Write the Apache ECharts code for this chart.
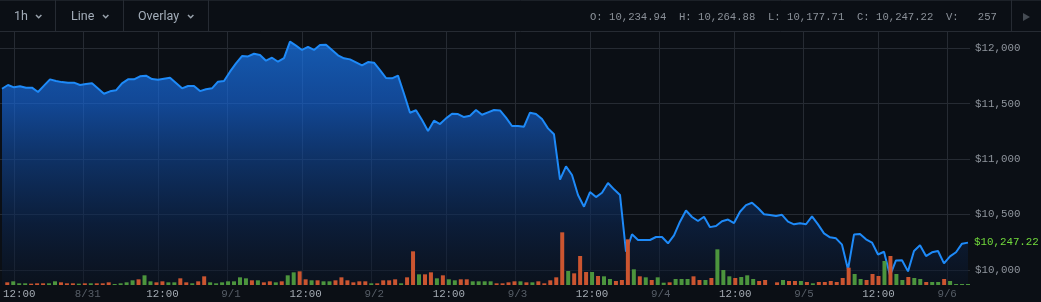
<!DOCTYPE html>
<html><head><meta charset="utf-8">
<style>html,body{margin:0;padding:0;background:#0b0f15;}#c{width:1041px;height:302px;}</style>
<script src="https://cdn.jsdelivr.net/npm/echarts@6/dist/echarts.min.js"></script>
</head><body><div id="c"></div>
<script>
// hourly close prices (index = hour)
const prices = [
11635,11669,11648,11657,11645,11645,11606,11663,11720,11705,
11695,11690,11690,11669,11677,11684,11637,11590,11612,11621,
11684,11720,11720,11747,11753,11723,11717,11726,11735,11687,
11639,11660,11660,11614,11630,11639,11699,11705,11789,11864,
11930,11927,11951,11940,11888,11915,11879,11912,12060,12024,
11985,12012,11985,12030,12033,11985,11937,11910,11900,11873,
11846,11876,11870,11804,11732,11729,11753,11590,11419,11441,
11353,11254,11347,11317,11368,11410,11407,11380,11392,11443,
11401,11422,11443,11440,11374,11299,11299,11293,11419,11407,
11362,11278,11224,10815,10935,10857,10677,10571,10703,10658,
10697,10785,10728,10677,10165,10322,10271,10271,10271,10298,
10298,10241,10312,10436,10537,10478,10442,10481,10387,10397,
10440,10455,10424,10526,10586,10607,10560,10503,10496,10487,
10498,10436,10412,10422,10413,10484,10412,10331,10295,10286,
10229,10005,10320,10325,10277,10248,10140,10165,9952,10087,
10088,9988,10172,10224,10126,10160,10172,10060,10123,10160,
10238,10247.22
];
// hourly volume
const volumes = [
670,920,420,420,330,420,420,420,920,670,
420,420,330,420,420,420,420,670,250,420,
670,1170,1420,2420,920,670,920,670,670,1670,
670,420,920,2170,670,420,670,920,920,1920,
1670,1170,1170,670,920,670,920,2420,3170,3420,
1420,1170,1170,920,920,1170,1920,1170,670,920,
920,420,420,1170,1170,1420,420,1920,8420,2670,
2670,3170,1670,2420,1420,1170,1420,1420,920,920,
920,920,420,420,670,920,920,670,670,920,
420,1170,1920,13170,3500,2920,7250,3250,3250,2250,
2170,1500,1000,1250,11420,3920,2170,1920,1250,1920,
580,670,1500,1500,1500,2170,1250,1250,1750,8920,
3750,2170,1750,2000,2420,1500,1000,1250,0,670,
1250,1000,1000,1000,750,420,750,750,1000,750,
1750,4330,2750,1500,1250,2750,2250,6000,7250,2750,
1250,2000,1750,1500,750,750,750,1500,1000,250,
250,257
];
// candle direction per hour: u = up (green), d = down (red)
const volumeDir = [
'd','u','u','u','d','d','d','u','u','d',
'd','d','u','d','u','d','d','d','u','u',
'u','u','d','u','u','d','d','u','u','d',
'd','u','d','d','u','u','u','u','u','u',
'u','d','u','d','d','u','d','u','u','d',
'd','u','d','u','u','d','d','d','d','d',
'd','u','d','d','d','d','u','d','d','u',
'd','d','u','d','u','u','d','d','u','u',
'u','u','d','d','d','d','u','d','u','d',
'd','d','d','d','u','d','d','d','u','d',
'u','u','d','d','d','u','d','u','d','u',
'u','d','u','u','u','d','d','u','d','u',
'u','u','d','u','u','u','d','d','d','d',
'u','d','d','u','d','u','d','d','d','d',
'd','d','u','u','d','d','d','u','d','u',
'u','d','u','u','d','u','u','d','u','u',
'u','u'
];
const tickPositions = [2, 13.5, 26, 37.5, 50, 61.5, 74, 85.5, 98, 109.5, 122, 133.5, 146, 157.5];
const tickLabels = ['12:00','8/31','12:00','9/1','12:00','9/2','12:00','9/3','12:00','9/4','12:00','9/5','12:00','9/6'];
const priceTicks = [10000, 10500, 11000, 11500, 12000];
const ohlcText = 'O: 10,234.94  H: 10,264.88  L: 10,177.71  C: 10,247.22  V:   257';
const menuItems = ['1h', 'Line', 'Overlay'];

const MONO = "'Liberation Mono','DejaVu Sans Mono',monospace";
const GRIDC = '#262b33';
const RED = '#cb5530', GREEN = '#4c953d';

function tickIndex(v){ for (let i=0;i<tickPositions.length;i++){ if (Math.abs(tickPositions[i]-v)<0.01) return i; } return -1; }

const chart = echarts.init(document.getElementById('c'), null, {renderer:'canvas'});
const last = prices[prices.length-1];
const xMin = -1/3, xMax = prices.length - 1 + 1/3;

const graphics = [
  {type:'line', shape:{x1:0,y1:0.5,x2:1041,y2:0.5}, style:{stroke:'#1c2128',lineWidth:1}, silent:true},
  {type:'line', shape:{x1:0,y1:31.5,x2:1041,y2:31.5}, style:{stroke:GRIDC,lineWidth:1}, silent:true},
  {type:'line', shape:{x1:55.5,y1:0,x2:55.5,y2:31}, style:{stroke:GRIDC,lineWidth:1}},
  {type:'line', shape:{x1:123.5,y1:0,x2:123.5,y2:31}, style:{stroke:GRIDC,lineWidth:1}},
  {type:'line', shape:{x1:208.5,y1:0,x2:208.5,y2:31}, style:{stroke:GRIDC,lineWidth:1}},
  {type:'line', shape:{x1:1011.5,y1:0,x2:1011.5,y2:31}, style:{stroke:GRIDC,lineWidth:1}},
  {type:'text', x:14, y:17, style:{text:menuItems[0], fill:'#a3adb9', font:"12.5px Roboto", verticalAlign:'middle'}},
  {type:'text', x:71, y:17, style:{text:menuItems[1], fill:'#a3adb9', font:"12.5px Roboto", verticalAlign:'middle'}},
  {type:'text', x:138, y:17, style:{text:menuItems[2], fill:'#a3adb9', font:"12.5px Roboto", verticalAlign:'middle'}},
  {type:'polyline', shape:{points:[[36,15],[38.7,17.7],[41.4,15]]}, style:{stroke:'#9aa3ad',lineWidth:1.5,fill:null}},
  {type:'polyline', shape:{points:[[103,15],[105.7,17.7],[108.4,15]]}, style:{stroke:'#9aa3ad',lineWidth:1.5,fill:null}},
  {type:'polyline', shape:{points:[[188,15],[190.7,17.7],[193.4,15]]}, style:{stroke:'#9aa3ad',lineWidth:1.5,fill:null}},
  {type:'text', x:590, y:17, style:{text:ohlcText, fill:'#8b9199', font:"10.6px 'Liberation Mono'", verticalAlign:'middle'}},
  {type:'polygon', shape:{points:[[1023,13],[1023,21],[1030,17]]}, style:{fill:'#454b53'}}
];

chart.setOption({
  backgroundColor:'#0b0f15',
  animation:false,
  grid:[
    {left:0, right:71, top:31, bottom:17},
    {left:0, right:71, top:225, bottom:17}
  ],
  xAxis:[
    {type:'value', gridIndex:0, min:xMin, max:xMax,
     axisLine:{show:false}, axisTick:{show:false, customValues:tickPositions},
     axisLabel:{show:false, customValues:tickPositions},
     splitLine:{show:true, lineStyle:{color:GRIDC, width:1}}},
    {type:'value', gridIndex:1, min:xMin, max:xMax,
     axisLine:{show:false}, axisTick:{show:false, customValues:tickPositions},
     axisLabel:{customValues:tickPositions, margin:4, fontFamily:MONO, fontSize:10.8,
       formatter:(v)=>{const i=tickIndex(v); return i>=0?tickLabels[i]:'';},
       color:(v)=>{const i=tickIndex(v); return (i>=0 && tickLabels[i].indexOf('/')>=0)?'#575e67':'#a4abb3';}},
     splitLine:{show:false}}
  ],
  yAxis:[
    {type:'value', gridIndex:0, position:'right', min:9865, max:12156,
     axisLine:{show:false}, axisTick:{show:false, customValues:priceTicks},
     axisLabel:{customValues:priceTicks, margin:5, color:'#8f959d', fontFamily:MONO, fontSize:10.8,
       formatter:(v)=>'$'+Number(v).toLocaleString('en-US')},
     splitLine:{show:true, lineStyle:{color:GRIDC, width:1}}},
    {type:'value', gridIndex:1, min:0, max:15000, show:false, splitLine:{show:false}}
  ],
  series:[
    {type:'line', xAxisIndex:0, yAxisIndex:0, data:prices.map((p,i)=>[i,p]),
     symbol:'none', lineStyle:{color:'#1e8af8', width:2},
     areaStyle:{color:new echarts.graphic.LinearGradient(0,0,0,1,[
        {offset:0, color:'rgba(26,128,255,0.95)'},
        {offset:0.25, color:'rgba(22,105,225,0.9)'},
        {offset:0.5, color:'rgba(16,70,150,0.85)'},
        {offset:0.75, color:'rgba(12,40,85,0.8)'},
        {offset:1, color:'rgba(11,20,36,0.7)'}])},
     endLabel:{show:true, distance:6, color:'#72db3c', fontFamily:MONO, fontSize:10.8,
       formatter:()=>'$'+last.toLocaleString('en-US',{minimumFractionDigits:2, maximumFractionDigits:2})},
     z:2},
    {type:'bar', xAxisIndex:1, yAxisIndex:1, barWidth:4,
     data:volumes.map((v,i)=>({value:[i,v], itemStyle:{color: volumeDir[i]==='u'?GREEN:RED}})),
     z:3}
  ],
  graphic:graphics
});
</script>
</body></html>
